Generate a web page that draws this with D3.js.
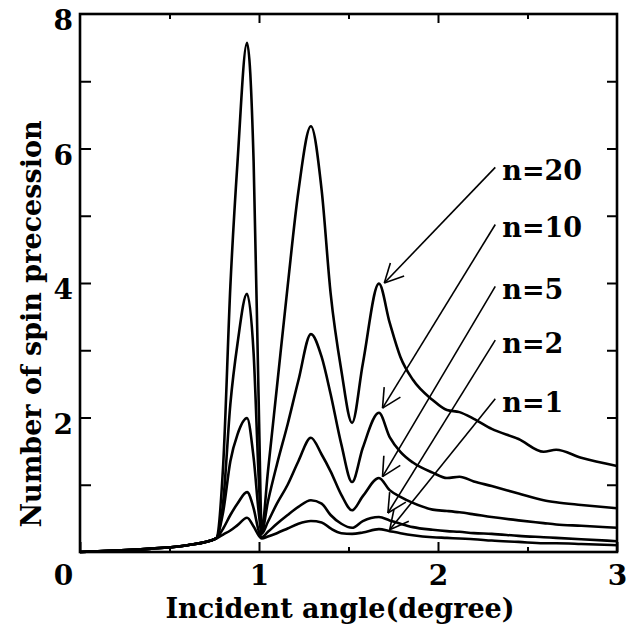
<html>
<head>
    <title>Spin precession vs incident angle</title>
    <script src="https://d3js.org/d3.v7.min.js"></script>
    <style>
        body { margin: 0; background: white; }
        svg { display: block; }
        text { font-family: "DejaVu Serif", "Liberation Serif", serif; fill: black; }
    </style>
</head>
<body>
    <div id="chart"></div>
    <script>
        // incident angle grid (degree), shared by all curves
        var angles = [0, 0.2, 0.4, 0.6, 0.76, 0.8, 0.84, 0.88, 0.933, 0.97, 1.0, 1.015, 1.05, 1.1, 1.16, 1.22, 1.29,
                      1.35, 1.4, 1.46, 1.52, 1.58, 1.67, 1.73, 1.79, 1.86, 1.97, 2.05, 2.12, 2.2, 2.3, 2.45, 2.59, 2.66, 2.8, 3.0];
        var n20 = [0, 0.02, 0.05, 0.1, 0.2, 1.3, 3.95, 5.8, 7.57, 5.8, 2.0, 0.35, 1.2, 2.45, 3.95, 5.36, 6.33,
                   5.38, 3.85, 2.7, 1.92, 2.8, 3.99, 3.41, 2.9, 2.56, 2.26, 2.11, 2.08, 1.98, 1.83, 1.68, 1.49, 1.52, 1.4, 1.28];
        var n10 = [0, 0.02, 0.05, 0.1, 0.2, 0.75, 2.2, 3.1, 3.84, 2.95, 1.0, 0.3, 0.75, 1.3, 1.9, 2.55, 3.24,
                   2.9, 2.35, 1.6, 1.04, 1.55, 2.07, 1.71, 1.49, 1.33, 1.18, 1.1, 1.12, 1.05, 0.98, 0.87, 0.77, 0.74, 0.7, 0.65];
        var n5  = [0, 0.02, 0.05, 0.1, 0.2, 0.6, 1.35, 1.75, 1.99, 1.4, 0.55, 0.27, 0.45, 0.72, 1.0, 1.35, 1.7,
                   1.45, 1.2, 0.85, 0.62, 0.83, 1.1, 0.92, 0.82, 0.73, 0.63, 0.61, 0.59, 0.56, 0.52, 0.47, 0.43, 0.41, 0.39, 0.36];
        var n2  = [0, 0.02, 0.05, 0.1, 0.2, 0.35, 0.55, 0.72, 0.89, 0.65, 0.3, 0.22, 0.3, 0.42, 0.55, 0.67, 0.77,
                   0.72, 0.55, 0.42, 0.36, 0.46, 0.52, 0.47, 0.42, 0.37, 0.33, 0.31, 0.3, 0.28, 0.27, 0.24, 0.22, 0.21, 0.19, 0.16];
        var n1  = [0, 0.02, 0.05, 0.1, 0.2, 0.26, 0.32, 0.4, 0.51, 0.38, 0.24, 0.2, 0.23, 0.28, 0.35, 0.42, 0.46,
                   0.44, 0.35, 0.28, 0.27, 0.29, 0.34, 0.31, 0.28, 0.25, 0.22, 0.21, 0.2, 0.19, 0.17, 0.15, 0.13, 0.13, 0.12, 0.1];
        var series = [n20, n10, n5, n2, n1];

        // labels with arrows: label start point and arrow tip, in data units
        var labelNames = ["n=20", "n=10", "n=5", "n=2", "n=1"];
        var labelX = [2.32, 2.32, 2.32, 2.32, 2.32];
        var labelY = [5.72, 4.87, 3.95, 3.15, 2.28];
        var tipX = [1.70, 1.69, 1.69, 1.72, 1.73];
        var tipY = [4.0, 2.14, 1.12, 0.58, 0.33];

        var xLabelTicks = [0, 1, 2, 3];
        var yLabelTicks = [2, 4, 6, 8];

        var width = 641, height = 639;
        var margin = {top: 14, right: 24, bottom: 87, left: 80};

        var svg = d3.select("#chart").append("svg")
                    .attr("width", width)
                    .attr("height", height);

        var x = d3.scaleLinear().domain([0, 3]).range([margin.left, width - margin.right]);
        var y = d3.scaleLinear().domain([0, 8]).range([height - margin.bottom, margin.top]);

        // curves
        var line = d3.line()
                     .x(function(d, i){ return x(angles[i]); })
                     .y(function(d){ return y(d); })
                     .curve(d3.curveMonotoneX);

        svg.selectAll("path.curve").data(series).enter().append("path")
           .attr("class", "curve")
           .attr("d", line)
           .attr("fill", "none")
           .attr("stroke", "black")
           .attr("stroke-width", 2.6)
           .attr("stroke-linejoin", "round");

        // axes: ticks pointing inward
        function styleAxis(g)
        {
            g.select(".domain").remove();
            g.selectAll("line").attr("stroke", "black").attr("stroke-width", 2);
            g.selectAll("text").attr("font-size", 28).attr("font-weight", "bold");
        }

        var halfTicks = d3.range(0.5, 3, 0.5);
        var unitTicks = d3.range(1, 8, 1);

        svg.append("g")
           .attr("transform", "translate(0," + y(0) + ")")
           .call(d3.axisBottom(x).tickValues(xLabelTicks).tickSize(-10).tickPadding(13).tickFormat(d3.format("d")))
           .call(styleAxis)
           .call(function(g){
               g.selectAll(".tick").filter(function(d){ return d == 0; }).select("text").attr("dx", -17);
           });
        svg.append("g")
           .attr("transform", "translate(0," + y(0) + ")")
           .call(d3.axisBottom(x).tickValues(halfTicks.filter(function(d){ return d % 1 != 0; })).tickSize(-5).tickFormat(""))
           .call(styleAxis);

        svg.append("g")
           .attr("transform", "translate(0," + y(8) + ")")
           .call(d3.axisTop(x).tickValues(halfTicks).tickSize(-5).tickFormat(""))
           .call(styleAxis)
           .call(function(g){
               g.selectAll(".tick line").filter(function(d){ return d % 1 == 0; }).attr("y2", 9);
           });

        svg.append("g")
           .attr("transform", "translate(" + x(0) + ",0)")
           .call(d3.axisLeft(y).tickValues(unitTicks).tickSize(-11).tickFormat(""))
           .call(styleAxis);
        svg.append("g")
           .attr("transform", "translate(" + x(0) + ",0)")
           .call(d3.axisLeft(y).tickValues(yLabelTicks).tickSize(0).tickPadding(7).tickFormat(d3.format("d")))
           .call(styleAxis)
           .call(function(g){ g.selectAll("text").attr("dy", "0.57em"); });

        svg.append("g")
           .attr("transform", "translate(" + x(3) + ",0)")
           .call(d3.axisRight(y).tickValues(unitTicks).tickSize(-10).tickFormat(""))
           .call(styleAxis);

        // frame
        svg.append("rect")
           .attr("x", x(0))
           .attr("y", y(8))
           .attr("width", x(3) - x(0))
           .attr("height", y(0) - y(8))
           .attr("fill", "none")
           .attr("stroke", "black")
           .attr("stroke-width", 2.6);

        // axis titles
        svg.append("text")
           .attr("x", 340)
           .attr("y", 618)
           .attr("text-anchor", "middle")
           .attr("font-size", 27)
           .attr("font-weight", "bold")
           .text("Incident angle(degree)");

        svg.append("text")
           .attr("transform", "translate(41," + 324 + ") rotate(-90)")
           .attr("text-anchor", "middle")
           .attr("font-size", 27)
           .attr("font-weight", "bold")
           .text("Number of spin precession");

        // labels and arrows
        var arrowLen = 21, arrowAng = 27 * Math.PI / 180;
        for(var i = 0; i < labelNames.length; ++i)
        {
            var x0 = x(labelX[i]), y0 = y(labelY[i]);
            var x1 = x(tipX[i]), y1 = y(tipY[i]);
            var a = Math.atan2(y0 - y1, x0 - x1);
            svg.append("line")
               .attr("x1", x0).attr("y1", y0).attr("x2", x1).attr("y2", y1)
               .attr("stroke", "black").attr("stroke-width", 1.6);
            [a - arrowAng, a + arrowAng].forEach(function(b){
                svg.append("line")
                   .attr("x1", x1).attr("y1", y1)
                   .attr("x2", x1 + arrowLen * Math.cos(b)).attr("y2", y1 + arrowLen * Math.sin(b))
                   .attr("stroke", "black").attr("stroke-width", 1.6);
            });
            svg.append("text")
               .attr("x", x0 + 7)
               .attr("y", y0 + 13)
               .attr("font-size", 27)
               .attr("font-weight", "bold")
               .text(labelNames[i]);
        }
    </script>
</body>
</html>
